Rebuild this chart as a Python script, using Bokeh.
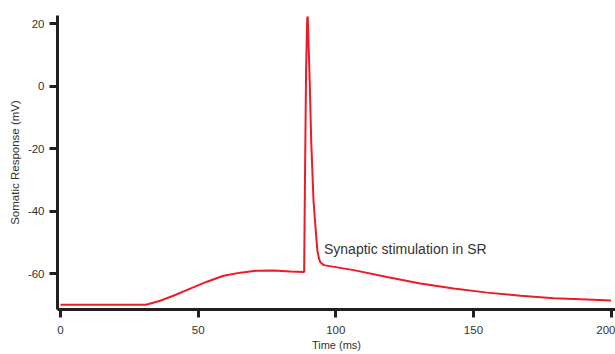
from bokeh.plotting import figure
from bokeh.models import Range1d, FixedTicker, Label
from bokeh.embed import file_html
from bokeh.resources import INLINE

# Somatic membrane potential trace
time_ms = [0, 31.1, 36.2, 41.0, 47.1, 53.2, 59.2, 65.3, 71.3, 77.4, 83.5, 88.5,
           88.8, 89.2, 89.6, 89.8, 90.5, 91.1, 91.9, 92.6, 93.3, 93.9, 94.4, 95.6,
           106.5, 118.6, 130.7, 142.8, 155.0, 167.1, 179.2, 191.3, 200]
voltage_mv = [-70.0, -70.0, -68.7, -67.1, -64.8, -62.6, -60.7, -59.7, -59.1, -59.0, -59.3, -59.5,
              -30.0, 5.0, 21.5, 22.3, 2.0, -18.5, -36.7, -45.0, -52.6, -55.2, -56.4, -57.3,
              -58.9, -61.1, -63.2, -64.8, -66.1, -67.1, -67.9, -68.3, -68.6]

x_ticks = [0, 50, 100, 150, 200]
y_ticks = [-60, -40, -20, 0, 20]
annotation = "Synaptic stimulation in SR"
annotation_pos = (95.7, -52.0)

FONT = "Liberation Sans"

p = figure(width=615, height=354, output_backend="svg", toolbar_location=None,
           x_range=Range1d(-1.1, 201.6), y_range=Range1d(-71.5, 22.6),
           min_border_left=57, min_border_right=0, min_border_top=15, min_border_bottom=45)
p.outline_line_color = None
p.grid.visible = False
p.background_fill_color = "white"
p.border_fill_color = "white"

p.line(time_ms, voltage_mv, line_color="#ed1c24", line_width=2)

p.add_layout(Label(x=annotation_pos[0], y=annotation_pos[1], text=annotation,
                   text_font=FONT, text_font_size="14px", text_color="#333333",
                   text_baseline="middle", text_align="left"))

for ax in (p.xaxis[0], p.yaxis[0]):
    ax.axis_line_width = 3
    ax.axis_line_color = "#231f20"
    ax.major_tick_line_width = 3
    ax.major_tick_line_color = "#231f20"
    ax.major_tick_in = 0
    ax.major_tick_out = 8
    ax.minor_tick_line_color = None
    ax.major_label_text_font = FONT
    ax.major_label_text_font_size = "11.5px"
    ax.major_label_text_color = "#333333"
    ax.axis_label_text_font = FONT
    ax.axis_label_text_font_style = "normal"
    ax.axis_label_text_color = "#333333"

p.xaxis.ticker = FixedTicker(ticks=x_ticks)
p.yaxis.ticker = FixedTicker(ticks=y_ticks)
p.xaxis.major_label_overrides = {t: str(t) for t in x_ticks}
p.yaxis.major_label_overrides = {t: str(t) for t in y_ticks}
p.xaxis.axis_label = "Time (ms)"
p.yaxis.axis_label = "Somatic Response (mV)"
p.xaxis.axis_label_text_font_size = "11px"
p.yaxis.axis_label_text_font_size = "11.5px"
p.xaxis.major_label_standoff = 8
p.yaxis.major_label_standoff = 5
p.xaxis.axis_label_standoff = 2
p.yaxis.axis_label_standoff = 4

open("out.html", "w").write(file_html(p, INLINE))
